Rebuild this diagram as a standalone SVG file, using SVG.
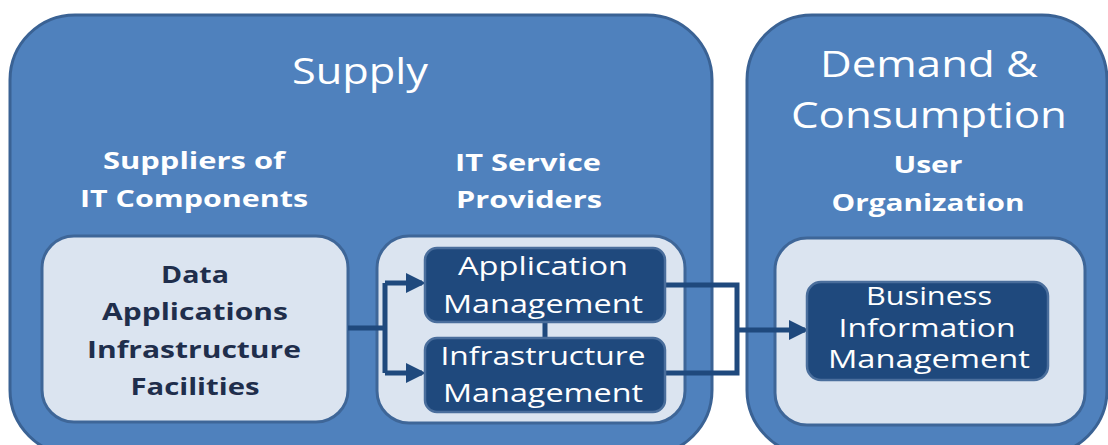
<svg xmlns="http://www.w3.org/2000/svg" width="1108" height="445" viewBox="0 0 1108 445">
<style>
.outer{fill:#4f81bd;stroke:#3a6294;stroke-width:3}
.inner{fill:#dbe4f0;stroke:#3e6698;stroke-width:3}
.dark{fill:#1f497d;stroke:#4a6e9c;stroke-width:2.5}
.t{font-family:"Open Sans","DejaVu Sans",sans-serif;text-anchor:middle}
.big{font-size:37px;fill:#ffffff}
.hd{font-size:23px;font-weight:bold;fill:#ffffff}
.dk{font-size:23px;font-weight:bold;fill:#1f2e4c}
.wt{font-size:25px;fill:#ffffff}
.conn{fill:none;stroke:#1f497d;stroke-width:5}
</style>
<defs>
<marker id="ah" markerWidth="4" markerHeight="4" refX="3.2" refY="2" orient="auto" markerUnits="strokeWidth">
<path d="M0,0 L4,2 L0,4 z" fill="#1f497d"/>
</marker>
</defs>
<rect width="1108" height="445" fill="#ffffff"/>
<g id="supply">
<rect class="outer" x="10" y="15" width="702" height="440" rx="65"/>
<text class="t big" x="360" y="84" textLength="136" lengthAdjust="spacingAndGlyphs">Supply</text>
<text class="t hd" x="194" y="169" textLength="182" lengthAdjust="spacingAndGlyphs">Suppliers of</text>
<text class="t hd" x="194" y="207" textLength="228" lengthAdjust="spacingAndGlyphs">IT Components</text>
<text class="t hd" x="528" y="171" textLength="146" lengthAdjust="spacingAndGlyphs">IT Service</text>
<text class="t hd" x="529" y="208" textLength="146" lengthAdjust="spacingAndGlyphs">Providers</text>
</g>
<g id="demand">
<rect class="outer" x="747" y="15" width="360" height="440" rx="65"/>
<text class="t big" x="929" y="77" textLength="218" lengthAdjust="spacingAndGlyphs">Demand &amp;</text>
<text class="t big" x="929" y="128" textLength="276" lengthAdjust="spacingAndGlyphs">Consumption</text>
<text class="t hd" x="928" y="173" textLength="69" lengthAdjust="spacingAndGlyphs">User</text>
<text class="t hd" x="928" y="211" textLength="193" lengthAdjust="spacingAndGlyphs">Organization</text>
</g>
<g id="components">
<rect class="inner" x="42" y="236" width="306" height="186" rx="32"/>
<text class="t dk" x="195" y="283" textLength="68" lengthAdjust="spacingAndGlyphs">Data</text>
<text class="t dk" x="195" y="320" textLength="186" lengthAdjust="spacingAndGlyphs">Applications</text>
<text class="t dk" x="194" y="358" textLength="214" lengthAdjust="spacingAndGlyphs">Infrastructure</text>
<text class="t dk" x="195" y="395" textLength="129" lengthAdjust="spacingAndGlyphs">Facilities</text>
</g>
<g id="providers">
<rect class="inner" x="377" y="236" width="308" height="187" rx="32"/>
</g>
<g id="user-org">
<rect class="inner" x="775" y="238" width="310" height="187" rx="32"/>
</g>
<g id="connectors">
<path class="conn" d="M348,328 H385 M385,283 V373 M545,320 V340"/>
<path class="conn" d="M385,283 H422" marker-end="url(#ah)"/>
<path class="conn" d="M385,373 H422" marker-end="url(#ah)"/>
<path class="conn" d="M665,285 H737 V373 H665 M737,330 H805" marker-end="url(#ah)"/>
</g>
<g id="app-mgmt">
<rect class="dark" x="425" y="248" width="240" height="74" rx="12"/>
<text class="t wt" x="543" y="275" textLength="170" lengthAdjust="spacingAndGlyphs">Application</text>
<text class="t wt" x="543" y="313" textLength="200" lengthAdjust="spacingAndGlyphs">Management</text>
</g>
<g id="infra-mgmt">
<rect class="dark" x="425" y="338" width="240" height="74" rx="12"/>
<text class="t wt" x="543" y="365" textLength="205" lengthAdjust="spacingAndGlyphs">Infrastructure</text>
<text class="t wt" x="543" y="402" textLength="200" lengthAdjust="spacingAndGlyphs">Management</text>
</g>
<g id="bim">
<rect class="dark" x="807" y="282" width="241" height="98" rx="14"/>
<text class="t wt" x="929" y="305" textLength="126" lengthAdjust="spacingAndGlyphs">Business</text>
<text class="t wt" x="927" y="337" textLength="177" lengthAdjust="spacingAndGlyphs">Information</text>
<text class="t wt" x="929" y="368" textLength="202" lengthAdjust="spacingAndGlyphs">Management</text>
</g>
</svg>
